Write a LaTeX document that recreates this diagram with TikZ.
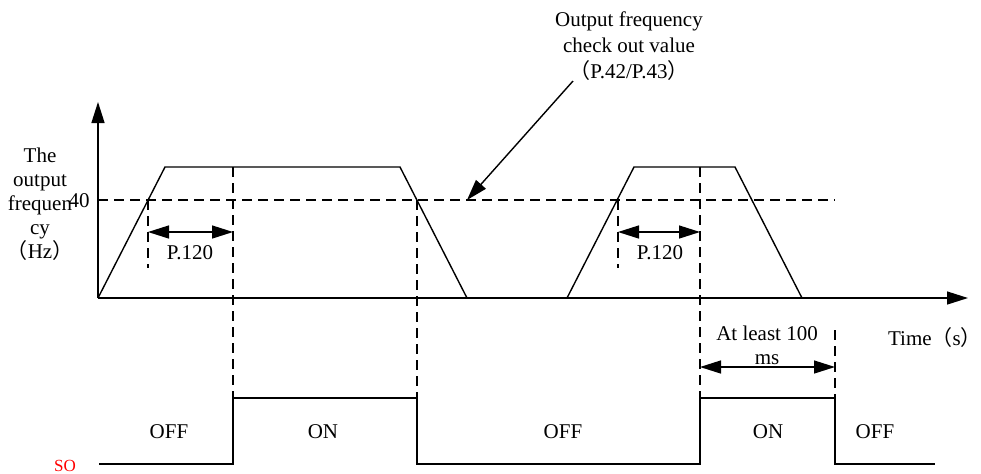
\documentclass[tikz,border=0pt]{standalone}
\usepackage{fontspec}
\setmainfont{Liberation Serif}
\newfontfamily\cjk{Noto Sans CJK SC}
\usetikzlibrary{arrows.meta,positioning,calc}

\newcommand{\fwl}{{\cjk （}}
\newcommand{\fwr}{{\cjk ）}}

\begin{document}
\begin{tikzpicture}[
    x=0.5pt, y=-0.5pt,
    every node/.style={font=\fontsize{10.5}{12}\selectfont, inner sep=0pt},
    curve/.style={line width=0.7pt},
    guide/.style={line width=0.7pt, dash pattern=on 5pt off 3pt},
    axis/.style={line width=0.7pt, -{Triangle[length=10.5pt,width=6.5pt]}},
    span/.style={
        line width=0.7pt,
        {Triangle[length=10.5pt,width=6.5pt]}-{Triangle[length=10.5pt,width=6.5pt]}
    },
    lbl/.style={align=center}
]
\useasboundingbox (0,0) rectangle (981,473);

% axes
\coordinate (O) at (98,298);
\coordinate (ytip) at (98,102);
\coordinate (xtip) at (968,298);
\draw[axis] (O) -- (ytip);
\draw[axis] (O) -- (xtip);

\node[lbl] (ylab) at (40,204) {The\\output\\frequen\\cy\\\fwl Hz\fwr};
\node[anchor=east] (forty) at (90,201) {40};
\node (tlab) at (935,338) {Time\fwl s\fwr};

% output frequency
\draw[curve] (O) -- (165,167) -- (400,167) -- (467,298);
\draw[curve] (567,298) -- (634,167) -- (735,167) -- (802,298);

\draw[guide] (98,200) -- (835,200);

\draw[guide] (148,200) -- (148,268);
\draw[guide] (233,167) -- (233,398);
\draw[guide] (417,200) -- (417,398);
\draw[guide] (618,200) -- (618,268);
\draw[guide] (700,167) -- (700,398);
\draw[guide] (835,330) -- (835,398);

\coordinate (d1a) at (148,232);
\coordinate (d1b) at (233,232);
\coordinate (d2a) at (618,232);
\coordinate (d2b) at (700,232);
\draw[span] (d1a) -- (d1b);
\draw[span] (d2a) -- (d2b);
\node (p1) at (190,253) {P.120};
\node (p2) at (660,253) {P.120};

% check out value
\node[lbl, font=\fontsize{10.5}{13}\selectfont] (note) at (629,46)
{Output frequency\\check out value\\\fwl P.42/P.43\fwr};
\coordinate (notefoot) at (573,81);
\coordinate (cross) at (467,200);
\draw[axis] (notefoot) -- (cross);

% SO signal
\draw[curve] (99,464) -- (233,464) -- (233,398) -- (417,398) -- (417,464)
    -- (700,464) -- (700,398) -- (835,398) -- (835,464) -- (935,464);

\coordinate (m1) at (700,367);
\coordinate (m2) at (835,367);
\draw[span] (m1) -- (m2);
\node[lbl] (least) at (767,345) {At least 100\\ms};

\node (off1) at (169,432) {OFF};
\node (on1) at (323,432) {ON};
\node (off2) at (563,432) {OFF};
\node (on2) at (768,432) {ON};
\node (off3) at (875,432) {OFF};
\node[text=red, font=\fontsize{8.5}{10}\selectfont] (so) at (65,466) {SO};

\end{tikzpicture}
\end{document}
